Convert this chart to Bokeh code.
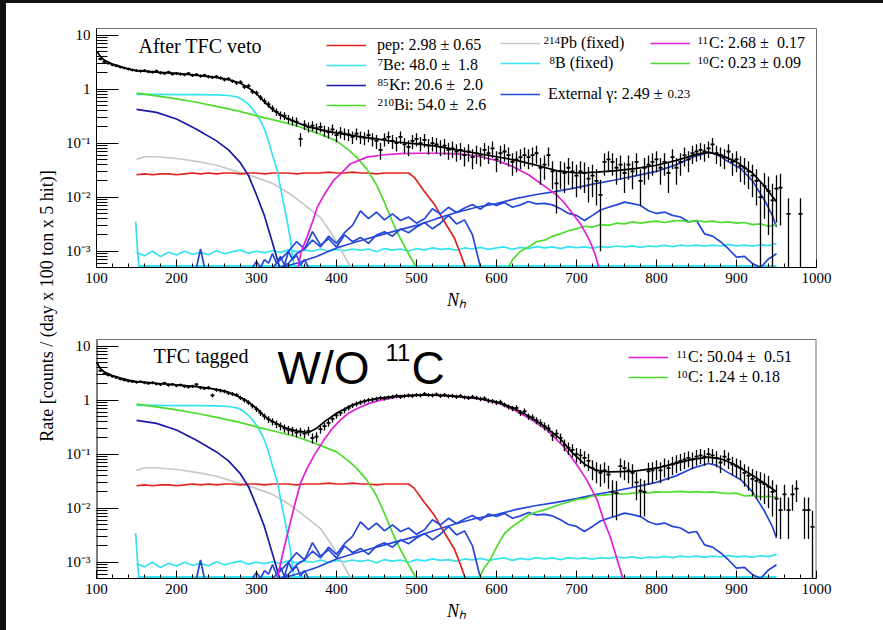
import math
import numpy as np
from bokeh.plotting import figure
from bokeh.models import (Range1d, FixedTicker, CustomJSTickFormatter, Label,
                          Legend, LegendItem, Div, Span)
from bokeh.layouts import column, row
from bokeh.embed import file_html
from bokeh.resources import INLINE

# ---------------- data ----------------
Y_MIN, Y_MAX = 5e-4, 13.2

# measured points, top panel (After TFC veto)
DATA_TOP_N = list(range(100, 955, 5)) + [955, 965, 980]
DATA_TOP_RATE = [
    4.8, 3.6, 3.2, 3.0, 2.8, 2.7, 2.55, 2.45, 2.35, 2.25,
    2.2, 2.15, 2.2, 2.1, 2.05, 2.15, 2.0, 1.95, 2.05, 1.9,
    1.95, 1.9, 1.85, 1.95, 1.8, 1.85, 1.75, 1.8, 1.7, 1.65,
    1.7, 1.6, 1.5, 1.55, 1.4, 1.3, 1.35, 1.1, 1.15, 0.9,
    0.85, 0.7, 0.6, 0.52, 0.44, 0.38, 0.33, 0.32, 0.28, 0.26,
    0.25, 0.12, 0.22, 0.2, 0.21, 0.19, 0.2, 0.17, 0.16, 0.18,
    0.14, 0.16, 0.15, 0.145, 0.13, 0.15, 0.13, 0.125, 0.14, 0.12,
    0.11, 0.075, 0.12, 0.13, 0.11, 0.10, 0.13, 0.095, 0.085, 0.11,
    0.12, 0.10, 0.115, 0.09, 0.10, 0.095, 0.085, 0.09, 0.075, 0.08,
    0.07, 0.075, 0.06, 0.07, 0.055, 0.065, 0.06, 0.075, 0.065, 0.08,
    0.05, 0.065, 0.07, 0.06, 0.045, 0.05, 0.055, 0.06, 0.055, 0.06,
    0.065, 0.035, 0.04, 0.06, 0.03, 0.018, 0.03, 0.028, 0.035, 0.03,
    0.025, 0.03, 0.028, 0.022, 0.025, 0.02, 0.011, 0.045, 0.05, 0.045,
    0.035, 0.04, 0.028, 0.04, 0.03, 0.045, 0.02, 0.035, 0.04, 0.045,
    0.05, 0.035, 0.045, 0.028, 0.055, 0.035, 0.045, 0.06, 0.05, 0.065,
    0.07, 0.075, 0.07, 0.08, 0.095, 0.065, 0.06, 0.055, 0.07, 0.045,
    0.05, 0.038, 0.035, 0.03, 0.025, 0.02, 0.01, 0.016, 0.013, 0.0087,
    0.0144,
    0.015, 0.0049, 0.0049]
DATA_TOP_ERR = [
    0.2, 0.18, 0.17, 0.165, 0.16, 0.155, 0.15, 0.15, 0.145, 0.14,
    0.14, 0.14, 0.14, 0.14, 0.135, 0.14, 0.135, 0.13, 0.135, 0.13,
    0.13, 0.13, 0.13, 0.13, 0.13, 0.13, 0.125, 0.13, 0.125, 0.12,
    0.125, 0.12, 0.115, 0.12, 0.11, 0.11, 0.11, 0.1, 0.1, 0.09,
    0.09, 0.08, 0.075, 0.07, 0.063, 0.058, 0.055, 0.054, 0.05, 0.048,
    0.047, 0.033, 0.045, 0.042, 0.044, 0.041, 0.042, 0.039, 0.038, 0.04,
    0.036, 0.038, 0.037, 0.036, 0.034, 0.037, 0.034, 0.034, 0.036, 0.033,
    0.032, 0.026, 0.033, 0.034, 0.032, 0.03, 0.034, 0.029, 0.028, 0.032,
    0.033, 0.03, 0.032, 0.029, 0.03, 0.029, 0.028, 0.029, 0.026, 0.027,
    0.025, 0.026, 0.023, 0.025, 0.022, 0.024, 0.023, 0.026, 0.024, 0.027,
    0.021, 0.024, 0.025, 0.023, 0.02, 0.021, 0.022, 0.023, 0.022, 0.023,
    0.024, 0.018, 0.019, 0.023, 0.016, 0.013, 0.016, 0.016, 0.018, 0.016,
    0.015, 0.016, 0.016, 0.014, 0.015, 0.013, 0.01, 0.02, 0.021, 0.02,
    0.018, 0.019, 0.016, 0.019, 0.016, 0.02, 0.013, 0.018, 0.019, 0.02,
    0.021, 0.018, 0.02, 0.016, 0.022, 0.018, 0.02, 0.023, 0.021, 0.024,
    0.025, 0.026, 0.025, 0.027, 0.029, 0.024, 0.023, 0.022, 0.025, 0.02,
    0.021, 0.019, 0.018, 0.016, 0.015, 0.013, 0.0095, 0.012, 0.011, 0.009,
    0.011,
    0.012, 0.0047, 0.0047]

# measured points, bottom panel (TFC tagged)
DATA_BOT_N = list(range(100, 955, 5)) + [955, 960, 965, 970, 975, 985, 990, 995]
DATA_BOT_RATE = [
    4.8, 3.5, 3.1, 2.9, 2.75, 2.6, 2.45, 2.35, 2.25, 2.2,
    2.15, 2.2, 2.1, 2.05, 2.1, 2.0, 1.95, 2.05, 1.9, 1.95,
    1.85, 1.9, 1.8, 1.75, 1.8, 1.95, 1.7, 1.65, 1.7, 1.22,
    1.55, 1.5, 1.45, 1.35, 1.3, 1.25, 1.1, 1.0, 0.9, 0.78,
    0.68, 0.58, 0.5, 0.44, 0.4, 0.36, 0.33, 0.3, 0.28, 0.27,
    0.25, 0.26, 0.24, 0.27, 0.2, 0.21, 0.29, 0.33, 0.38, 0.45,
    0.52, 0.58, 0.65, 0.72, 0.8, 0.85, 0.9, 0.95, 1.0, 1.02,
    1.05, 1.1, 1.08, 1.12, 1.15, 1.2, 1.15, 1.18, 1.22, 1.2,
    1.25, 1.22, 1.3, 1.25, 1.22, 1.28, 1.2, 1.25, 1.18, 1.2,
    1.15, 1.2, 1.12, 1.1, 1.15, 1.1, 1.05, 1.08, 0.98, 0.95,
    0.9, 0.92, 0.82, 0.75, 0.7, 0.72, 0.58, 0.62, 0.5, 0.48,
    0.42, 0.38, 0.33, 0.3, 0.22, 0.24, 0.2, 0.15, 0.13, 0.12,
    0.1, 0.095, 0.085, 0.075, 0.055, 0.05, 0.045, 0.05, 0.042, 0.02,
    0.019, 0.06, 0.055, 0.05, 0.045, 0.03, 0.021, 0.02, 0.048, 0.05,
    0.055, 0.05, 0.06, 0.055, 0.065, 0.07, 0.075, 0.08, 0.085, 0.08,
    0.09, 0.095, 0.09, 0.1, 0.095, 0.085, 0.07, 0.09, 0.08, 0.065,
    0.06, 0.055, 0.045, 0.04, 0.035, 0.032, 0.03, 0.028, 0.025, 0.02,
    0.015,
    0.0092, 0.018, 0.0092, 0.018, 0.023, 0.0092, 0.0092, 0.0045]
DATA_BOT_ERR = [
    0.2, 0.18, 0.17, 0.16, 0.16, 0.15, 0.15, 0.145, 0.14, 0.14,
    0.14, 0.14, 0.14, 0.135, 0.14, 0.135, 0.13, 0.135, 0.13, 0.13,
    0.13, 0.13, 0.13, 0.125, 0.13, 0.13, 0.125, 0.12, 0.125, 0.105,
    0.12, 0.115, 0.115, 0.11, 0.11, 0.105, 0.1, 0.095, 0.09, 0.085,
    0.08, 0.072, 0.067, 0.063, 0.06, 0.057, 0.055, 0.052, 0.05, 0.05,
    0.047, 0.048, 0.046, 0.05, 0.042, 0.044, 0.051, 0.055, 0.058, 0.064,
    0.07, 0.072, 0.077, 0.08, 0.085, 0.088, 0.09, 0.093, 0.095, 0.096,
    0.097, 0.1, 0.099, 0.1, 0.1, 0.104, 0.1, 0.103, 0.105, 0.104,
    0.106, 0.105, 0.108, 0.106, 0.105, 0.107, 0.104, 0.106, 0.103, 0.104,
    0.1, 0.104, 0.1, 0.1, 0.1, 0.1, 0.097, 0.099, 0.094, 0.093,
    0.09, 0.091, 0.086, 0.082, 0.08, 0.08, 0.072, 0.075, 0.067, 0.066,
    0.062, 0.058, 0.055, 0.052, 0.045, 0.046, 0.042, 0.037, 0.034, 0.033,
    0.03, 0.029, 0.028, 0.026, 0.022, 0.021, 0.02, 0.021, 0.019, 0.013,
    0.013, 0.023, 0.022, 0.021, 0.02, 0.016, 0.014, 0.013, 0.021, 0.021,
    0.022, 0.021, 0.023, 0.022, 0.024, 0.025, 0.026, 0.027, 0.028, 0.027,
    0.029, 0.029, 0.029, 0.03, 0.029, 0.028, 0.025, 0.029, 0.027, 0.024,
    0.023, 0.022, 0.02, 0.019, 0.018, 0.017, 0.016, 0.016, 0.015, 0.013,
    0.012,
    0.0065, 0.009, 0.0065, 0.009, 0.01, 0.0065, 0.0065, 0.0045]

# total fit
FIT_TOP_N = [100, 105, 110, 120, 130, 140, 150, 175, 200, 225, 250, 265, 280, 290, 300, 310,
             320, 335, 350, 365, 385, 405, 425, 450, 475, 500, 525, 550, 575, 600, 625, 650,
             675, 700, 725, 750, 775, 800, 825, 850, 865, 880, 900, 920, 935, 950]
FIT_TOP = [5.0, 4.0, 3.4, 2.9, 2.6, 2.35, 2.2, 2.05, 1.95, 1.8, 1.65, 1.5, 1.28, 1.05, 0.82, 0.58,
           0.42, 0.30, 0.24, 0.20, 0.17, 0.15, 0.135, 0.12, 0.105, 0.097, 0.088, 0.075, 0.065,
           0.056, 0.048, 0.039, 0.031, 0.028, 0.029, 0.031, 0.034, 0.039, 0.048, 0.062, 0.068,
           0.060, 0.045, 0.028, 0.016, 0.0082]
FIT_BOT_N = [100, 105, 110, 120, 130, 140, 150, 175, 200, 225, 250, 265, 280, 290, 300, 310,
             320, 335, 350, 365, 375, 385, 400, 415, 430, 450, 475, 500, 525, 550, 575, 600,
             620, 640, 660, 680, 695, 710, 725, 740, 770, 800, 825, 845, 865, 880, 895, 915,
             935, 950]
FIT_BOT = [5.0, 3.8, 3.3, 2.85, 2.55, 2.35, 2.2, 2.05, 1.92, 1.78, 1.58, 1.4, 1.12, 0.92, 0.7,
           0.5, 0.4, 0.31, 0.27, 0.25, 0.3, 0.4, 0.57, 0.75, 0.92, 1.07, 1.18, 1.24, 1.23, 1.17,
           1.08, 0.93, 0.73, 0.51, 0.33, 0.19, 0.105, 0.065, 0.05, 0.047, 0.048, 0.055, 0.068,
           0.08, 0.088, 0.082, 0.067, 0.045, 0.029, 0.02]

# components common to both panels
PEP_N = list(range(150, 500, 10)) + [497, 509, 522, 534, 547, 555, 561]
PEP = [0.026, 0.027, 0.026, 0.027, 0.027, 0.026, 0.027, 0.028, 0.027, 0.028,
       0.027, 0.028, 0.028, 0.027, 0.028, 0.028, 0.027, 0.028, 0.028, 0.028,
       0.027, 0.028, 0.028, 0.028, 0.029, 0.028, 0.028, 0.029, 0.028, 0.028,
       0.027, 0.028, 0.028, 0.028, 0.028,
       0.0235, 0.0133, 0.0075, 0.0037, 0.0018, 0.0009, 0.0005]
BE7_N = [150, 175, 200, 225, 250, 265, 275, 280, 285, 290, 295, 300, 305, 310, 315, 320,
         326, 330, 334, 338, 342, 347]
BE7 = [0.80, 0.80, 0.79, 0.79, 0.78, 0.76, 0.72, 0.67, 0.60, 0.52, 0.43, 0.34, 0.26, 0.18,
       0.11, 0.06, 0.031, 0.015, 0.0075, 0.0038, 0.0018, 0.0005]
KR_N = [150, 175, 200, 225, 250, 265, 280, 290, 300, 310, 318, 325, 329]
KR = [0.42, 0.37, 0.28, 0.18, 0.11, 0.075, 0.043, 0.025, 0.011, 0.0045, 0.0018, 0.0008, 0.0005]
BI_N = [150, 175, 200, 225, 250, 275, 300, 325, 350, 375, 400, 415, 425, 438, 450, 460, 470,
        480, 490, 500]
BI = [0.84, 0.75, 0.66, 0.57, 0.48, 0.40, 0.32, 0.26, 0.21, 0.155, 0.11, 0.075, 0.055, 0.033,
      0.017, 0.008, 0.0035, 0.0017, 0.0009, 0.0005]
PB_N = [150, 160, 175, 200, 225, 250, 275, 300, 320, 340, 360, 380, 395, 405, 418]
PB = [0.050, 0.056, 0.056, 0.052, 0.046, 0.039, 0.030, 0.023, 0.018, 0.012, 0.0072, 0.0042,
      0.002, 0.0011, 0.0005]
B8_N = list(range(150, 960, 10))
B8 = [9.5e-4, 8.2e-4, 1.0e-3, 8.0e-4, 9.6e-4, 8.5e-4, 1.0e-3, 8.8e-4, 9.5e-4, 8.6e-4,
      1.02e-3, 9.0e-4, 9.8e-4, 1.05e-3, 9.2e-4, 1.0e-3, 9.4e-4, 1.02e-3, 9.5e-4, 1.06e-3,
      9.8e-4, 1.05e-3, 1.0e-3, 1.1e-3, 1.0e-3, 1.08e-3, 1.02e-3, 1.1e-3, 1.04e-3, 1.1e-3,
      9.8e-4, 1.12e-3, 1.05e-3, 1.1e-3, 1.0e-3, 1.12e-3, 1.06e-3, 1.15e-3, 1.08e-3, 1.12e-3,
      1.04e-3, 1.15e-3, 1.1e-3, 1.18e-3, 1.08e-3, 1.15e-3, 1.2e-3, 1.08e-3, 1.18e-3, 1.12e-3,
      1.22e-3, 1.15e-3, 1.2e-3, 1.12e-3, 1.22e-3, 1.16e-3, 1.2e-3, 1.14e-3, 1.22e-3, 1.18e-3,
      1.25e-3, 1.2e-3, 1.26e-3, 1.18e-3, 1.25e-3, 1.22e-3, 1.28e-3, 1.22e-3, 1.3e-3, 1.25e-3,
      1.3e-3, 1.24e-3, 1.3e-3, 1.25e-3, 1.32e-3, 1.26e-3, 1.3e-3, 1.24e-3, 1.32e-3, 1.27e-3,
      1.4e-3]
CYAN_EDGE_N = [149, 151, 153]
CYAN_EDGE = [0.0035, 0.0012, 0.0005]
CYAN_FLOOR_N = [152, 950]
CYAN_FLOOR = [Y_MIN, Y_MIN]
EXT_N = [330, 350, 375, 400, 425, 450, 475, 500, 525, 550, 575, 600, 625, 650, 675, 700, 725,
         750, 775, 800, 825, 845, 865, 875, 890, 905, 920, 935, 945, 950]
EXT = [0.0005, 0.0006, 0.0008, 0.00115, 0.0015, 0.0019, 0.0024, 0.003, 0.004, 0.0052, 0.0065,
       0.0076, 0.0095, 0.0112, 0.0128, 0.015, 0.018, 0.021, 0.025, 0.030, 0.040, 0.055, 0.067,
       0.062, 0.045, 0.034, 0.02, 0.0088, 0.0045, 0.0028]
EXT_B_N = list(range(330, 960, 10))
EXT_B = [5e-4, 6e-4, 9e-4, 1.1e-3, 1.6e-3, 1.2e-3, 1.9e-3, 1.4e-3, 2.2e-3, 3.0e-3,
         5.6e-3, 4.0e-3, 5.3e-3, 3.8e-3, 4.9e-3, 3.7e-3, 4.3e-3, 3.3e-3, 4.0e-3, 6.1e-3,
         4.9e-3, 6.5e-3, 5.2e-3, 6.3e-3, 7.3e-3, 6.0e-3, 7.8e-3, 7.0e-3, 8.0e-3, 6.5e-3,
         7.2e-3, 8.3e-3, 7.5e-3, 7.7e-3, 7.2e-3, 6.1e-3, 5.0e-3, 4.6e-3, 3.7e-3, 4.6e-3,
         5.8e-3, 6.5e-3, 7.2e-3, 8.1e-3, 7.6e-3, 7.0e-3, 5.6e-3, 5.0e-3, 5.3e-3, 4.6e-3,
         4.3e-3, 3.5e-3, 3.7e-3, 2.1e-3, 1.9e-3, 1.5e-3, 1.1e-3, 7.8e-4, 8e-4, 5.9e-4,
         5e-4, 7.2e-4, 9e-4]
EXT_A_N = list(range(320, 580, 10)) + [575, 580]
EXT_A = [5e-4, 7e-4, 1.0e-3, 1.5e-3, 1.1e-3, 2.3e-3, 1.3e-3, 1.7e-3, 1.2e-3, 2.0e-3,
         1.5e-3, 1.8e-3, 1.4e-3, 2.0e-3, 2.3e-3, 1.9e-3, 2.6e-3, 2.2e-3, 2.8e-3, 3.4e-3,
         2.6e-3, 3.3e-3, 4.6e-3, 3.2e-3, 3.8e-3, 2.0e-3, 1.0e-3, 5e-4]
EXT_C_N = [225, 230, 235, 236, 295, 300, 305, 310, 315, 320, 325, 330, 335, 340, 345, 350,
           355, 360, 365]
EXT_C = [0.0005, 0.0011, 0.0005, np.nan, 0.0005, 0.00065, 0.0005, 0.0007, 0.0006, 0.0009,
         0.0006, 0.0008, 0.00055, 0.001, 0.0007, 0.00085, 0.00055, 0.0007, 0.0005]

# 11C and 10C
C11_TOP_N = [352, 356, 363, 370, 376, 382, 388, 397, 405, 417, 438, 460, 480, 500, 520, 540,
             560, 580, 600, 620, 640, 660, 675, 685, 695, 705, 712, 718, 723, 728]
C11_TOP = [0.0005, 0.001, 0.0018, 0.0035, 0.0065, 0.0095, 0.0133, 0.021, 0.027, 0.041, 0.055,
           0.061, 0.064, 0.065, 0.065, 0.064, 0.062, 0.056, 0.048, 0.037, 0.026, 0.016, 0.011,
           0.0078, 0.005, 0.0032, 0.0021, 0.0014, 0.0009, 0.0005]
C11_BOT_N = [326, 333, 338, 347, 355, 363, 373, 384, 395, 405, 415, 426, 440, 455, 470, 488,
             505, 520, 540, 560, 580, 600, 620, 642, 663, 684, 700, 713, 726, 734, 742, 751, 758]
C11_BOT = [0.0005, 0.0015, 0.003, 0.0105, 0.029, 0.054, 0.1, 0.18, 0.3, 0.43, 0.57, 0.70,
           0.86, 1.0, 1.1, 1.19, 1.23, 1.25, 1.22, 1.13, 1.04, 0.90, 0.68, 0.45, 0.28, 0.137,
           0.065, 0.033, 0.014, 0.006, 0.003, 0.0011, 0.0005]
C10_TOP_N = [615] + list(range(620, 960, 10))
C10_TOP = [0.0005, 0.0007, 0.001, 0.0012, 0.0015, 0.0016, 0.0019, 0.0021, 0.0024, 0.0026,
           0.0029, 0.0028, 0.0031, 0.0030, 0.0033, 0.0032, 0.0035, 0.0033, 0.0035, 0.0036,
           0.0034, 0.0036, 0.0037, 0.0035, 0.0037, 0.0035, 0.0036, 0.0034, 0.0035, 0.0033,
           0.0034, 0.0031, 0.0032, 0.0029, 0.0031]
C10_BOT_N = [578, 585, 592] + list(range(600, 960, 10))
C10_BOT = [0.0005, 0.0008, 0.0011,
           0.0019, 0.0034, 0.0046, 0.0058, 0.0075, 0.0085, 0.0093, 0.0105, 0.0118, 0.013,
           0.0145, 0.015, 0.0168, 0.0172, 0.0178, 0.0185, 0.0183, 0.019, 0.0195, 0.0192,
           0.02, 0.0197, 0.02, 0.0205, 0.0198, 0.0202, 0.0196, 0.02, 0.0192, 0.0187,
           0.019, 0.0168, 0.0172, 0.0162, 0.0165, 0.016]

Y_MAJOR = [1e-3, 1e-2, 1e-1, 1.0, 10.0]
Y_MINOR = [m * 10.0 ** e for e in range(-4, 2) for m in range(2, 10) if m * 10.0 ** e < Y_MAX]
X_MAJOR = list(range(100, 1001, 100))
X_MINOR = [v for v in range(100, 1001, 20) if v % 100]

# legend texts: (superscript, main text)
LEG_TOP_1 = [("", "pep: 2.98 \u00b1 0.65"), ("7", "Be: 48.0 \u00b1  1.8"),
             ("85", "Kr: 20.6 \u00b1  2.0"), ("210", "Bi: 54.0 \u00b1  2.6")]
LEG_TOP_2 = [("214", "Pb (fixed)"), ("8", "B (fixed)")]
LEG_TOP_3 = ("", "External \u03b3: 2.49 \u00b1", "0.23")
LEG_TOP_4 = [("11", "C: 2.68 \u00b1  0.17"), ("10", "C: 0.23 \u00b1 0.09")]
LEG_BOT = [("11", "C: 50.04 \u00b1  0.51"), ("10", "C: 1.24 \u00b1 0.18")]

# ---------------- styling ----------------
SERIF = "Liberation Serif"
C_PEP = "#e3211c"
C_CYAN = "#35e3f0"
C_KR = "#1a1aa8"
C_GREEN = "#4cdc2c"
C_PB = "#c8c8c8"
C_EXT = "#2447d9"
C_MAG = "#e01fd9"
C_FRAME = "#707070"
LW = 1.7
DECADE_PX = 54.0

FMT = CustomJSTickFormatter(code="""
const e = Math.round(Math.log10(tick));
if (e == 1) return "10";
if (e == 0) return "1";
const sup = {"-1": "\u207b\u00b9", "-2": "\u207b\u00b2", "-3": "\u207b\u00b3"};
return "10" + sup[String(e)];
""")


def base_fig(height, b_top, b_bottom, y_top):
    p = figure(width=823, height=height, x_range=Range1d(100, 1000),
               y_range=Range1d(Y_MIN, y_top), y_axis_type="log",
               output_backend="svg", toolbar_location=None,
               min_border_left=36, min_border_right=67,
               min_border_top=b_top, min_border_bottom=b_bottom)
    p.xgrid.visible = False
    p.ygrid.visible = False
    p.outline_line_color = C_FRAME
    p.background_fill_color = "white"
    p.border_fill_color = "white"
    xa, ya = p.xaxis[0], p.yaxis[0]
    xa.ticker = FixedTicker(ticks=X_MAJOR, minor_ticks=X_MINOR)
    ya.ticker = FixedTicker(ticks=Y_MAJOR, minor_ticks=Y_MINOR)
    ya.formatter = FMT
    for ax in (xa, ya):
        ax.axis_line_color = "black"
        ax.major_tick_line_color = "black"
        ax.minor_tick_line_color = "black"
        ax.major_tick_out = 0
        ax.minor_tick_out = 0
        ax.major_label_text_font = SERIF
        ax.major_label_text_font_size = "15px"
        ax.major_label_text_color = "black"
    xa.major_tick_in = 8
    xa.minor_tick_in = 4
    xa.major_label_standoff = 5
    xa.axis_label = "N\u2095"
    xa.axis_label_text_font = SERIF
    xa.axis_label_text_font_style = "italic"
    xa.axis_label_text_font_size = "18px"
    xa.axis_label_text_color = "black"
    xa.axis_label_standoff = 4
    ya.major_tick_in = 22
    ya.minor_tick_in = 11
    ya.major_label_standoff = 6
    return p


def draw_panel(p, c11_n, c11, c10_n, c10, fit_n, fit, dn, dv, de):
    r = {}
    p.line(CYAN_FLOOR_N, CYAN_FLOOR, color=C_CYAN, line_width=5)
    p.line(CYAN_EDGE_N, CYAN_EDGE, color=C_CYAN, line_width=LW)
    r["b8"] = p.line(B8_N, B8, color=C_CYAN, line_width=LW)
    r["pb"] = p.line(PB_N, PB, color=C_PB, line_width=LW)
    r["pep"] = p.line(PEP_N, PEP, color=C_PEP, line_width=LW)
    r["be7"] = p.line(BE7_N, BE7, color=C_CYAN, line_width=LW)
    r["kr"] = p.line(KR_N, KR, color=C_KR, line_width=LW)
    r["bi"] = p.line(BI_N, BI, color=C_GREEN, line_width=LW)
    p.line(EXT_C_N, np.array(EXT_C), color=C_EXT, line_width=LW)
    p.line(EXT_A_N, EXT_A, color=C_EXT, line_width=LW)
    p.line(EXT_B_N, EXT_B, color=C_EXT, line_width=LW)
    r["ext"] = p.line(EXT_N, EXT, color=C_EXT, line_width=LW)
    r["c10"] = p.line(c10_n, c10, color=C_GREEN, line_width=LW)
    r["c11"] = p.line(c11_n, c11, color=C_MAG, line_width=LW)
    p.line(fit_n, fit, color="black", line_width=1.7)
    n = np.array(dn, dtype=float)
    v = np.array(dv, dtype=float)
    e = np.array(de, dtype=float)
    lo = np.maximum(v - e, 1e-6)
    p.segment(x0=n, y0=lo, x1=n, y1=v + e, color="black", line_width=1.3)
    p.segment(x0=n - 2.5, y0=v, x1=n + 2.5, y1=v, color="black", line_width=1.8)
    return r


def legend_row(p, rend, gx, yb, standoff, sup, main, small=None):
    """One legend entry: line sample + text; superscript drawn smaller as ROOT does."""
    sup_w = int(round(len(sup) * 5.5 + (0.5 if sup else 0)))
    lg = Legend(items=[LegendItem(label=main, renderers=[rend])],
                location=(gx, yb), orientation="vertical",
                label_text_font=SERIF, label_text_font_size="16px", label_text_color="black",
                glyph_width=40, glyph_height=20, label_height=20,
                label_standoff=standoff + sup_w,
                spacing=0, padding=0, margin=0,
                border_line_alpha=0, background_fill_alpha=0)
    p.add_layout(lg)
    cy = yb + 10
    if sup:
        p.add_layout(Label(x=gx + 40 + standoff, y=cy - 0.5, x_units="screen", y_units="screen",
                           text=sup, text_font=SERIF, text_font_size="11px",
                           text_color="black"))
    if small:
        p.add_layout(Label(x=gx + 40 + standoff + 119, y=cy + 0.5, x_units="screen",
                           y_units="screen", text=small, text_font=SERIF,
                           text_font_size="13px", text_baseline="middle",
                           text_color="black"))


# ---------------- top panel ----------------
p1 = base_fig(315, 25, 51, Y_MAX)
r1 = draw_panel(p1, C11_TOP_N, C11_TOP, C10_TOP_N, C10_TOP, FIT_TOP_N, FIT_TOP,
                DATA_TOP_N, DATA_TOP_RATE, DATA_TOP_ERR)
for (sup, txt), key, yb in zip(LEG_TOP_1, ["pep", "be7", "kr", "bi"], [212, 192, 172, 152]):
    legend_row(p1, r1[key], 230, yb, 11, sup, txt)
legend_row(p1, r1["pb"], 404, 214, 3, *LEG_TOP_2[0])
legend_row(p1, r1["b8"], 404, 194, 9, *LEG_TOP_2[1])
legend_row(p1, r1["ext"], 404, 163, 8, LEG_TOP_3[0], LEG_TOP_3[1], small=LEG_TOP_3[2])
legend_row(p1, r1["c11"], 554, 214, 7, *LEG_TOP_4[0])
legend_row(p1, r1["c10"], 554, 194, 7, *LEG_TOP_4[1])
p1.add_layout(Label(x=42, y=222, x_units="screen", y_units="screen", text="After TFC veto",
                    text_font=SERIF, text_font_size="20px", text_baseline="middle",
                    text_color="black"))

# ---------------- bottom panel ----------------
# the frame reaches the top of the canvas so the big caption can cross the box edge;
# the visible box edge is drawn at Y_MAX like in the top panel
B2_TOP, B2_BOTTOM, H2 = 21, 52, 312
y_top2 = 10 ** (math.log10(Y_MAX) + B2_TOP / DECADE_PX)
p2 = base_fig(H2, 0, B2_BOTTOM, y_top2)
p2.outline_line_color = None
p2.yaxis[0].axis_line_color = None
r2 = draw_panel(p2, C11_BOT_N, C11_BOT, C10_BOT_N, C10_BOT, FIT_BOT_N, FIT_BOT,
                DATA_BOT_N, DATA_BOT_RATE, DATA_BOT_ERR)
p2.add_layout(Span(location=Y_MAX, dimension="width", line_color=C_FRAME, line_width=1))
p2.segment(x0=[1000], y0=[Y_MIN], x1=[1000], y1=[Y_MAX], color=C_FRAME, line_width=2)
p2.segment(x0=[100], y0=[Y_MIN], x1=[100], y1=[Y_MAX], color="black", line_width=2)
legend_row(p2, r2["c11"], 532, 211, 8, *LEG_BOT[0])
legend_row(p2, r2["c10"], 532, 191, 8, *LEG_BOT[1])
p2.add_layout(Label(x=57, y=223, x_units="screen", y_units="screen", text="TFC tagged",
                    text_font=SERIF, text_font_size="20px", text_baseline="middle",
                    text_color="black"))
p2.add_layout(Label(x=181, y=211, x_units="screen", y_units="screen", text="W/O",
                    text_font="Liberation Sans", text_font_size="46px",
                    text_baseline="alphabetic", text_color="black"))
p2.add_layout(Label(x=289, y=226, x_units="screen", y_units="screen", text="11",
                    text_font="Liberation Sans", text_font_size="24px",
                    text_baseline="alphabetic", text_color="black"))
p2.add_layout(Label(x=315, y=211, x_units="screen", y_units="screen", text="C",
                    text_font="Liberation Sans", text_font_size="46px",
                    text_baseline="alphabetic", text_color="black"))

# ---------------- page frame ----------------
top_bar = Div(text="", width=883, height=3, margin=0, styles={"background-color": "#111111"})
left_bar = Div(text="", width=6, height=627, margin=0, styles={"background-color": "#111111"})
ylab = Div(text=('<div style="position:absolute;left:42px;top:303px;'
                 'transform:translate(-50%,-50%) rotate(-90deg);white-space:nowrap;'
                 "font-family:'Liberation Serif';font-size:18px;color:#000;\">"
                 'Rate [counts / (day x 100 ton x 5 hit)]</div>'),
           width=54, height=627, margin=0, styles={"background-color": "white"})

layout = column(top_bar, row(left_bar, ylab, column(p1, p2, spacing=0), spacing=0), spacing=0)
html = file_html(layout, INLINE, title="TFC spectra")
with open("out.html", "w", encoding="utf-8") as f:
    f.write(html)
